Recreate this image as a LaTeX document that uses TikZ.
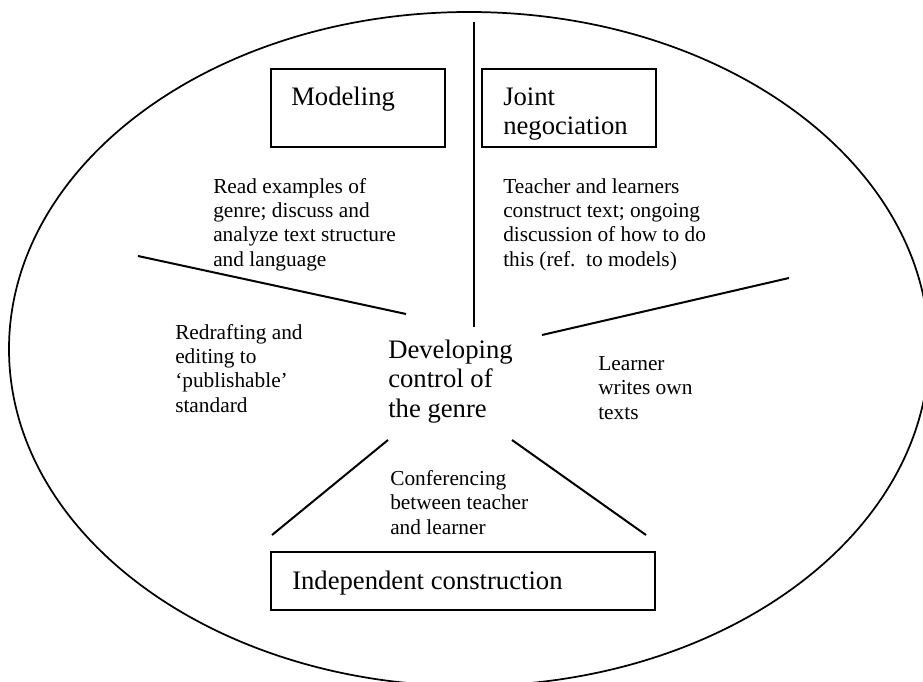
\documentclass[tikz,border=0pt]{standalone}
\usepackage{fontspec}
\setmainfont{Liberation Serif}

\begin{document}
\begin{tikzpicture}[x=0.75pt, y=-0.75pt,
  desc/.style={font=\fontsize{16}{18.2}\selectfont, align=left, anchor=base west, inner sep=0pt},
  title/.style={font=\fontsize{20}{22}\selectfont, align=left, anchor=base west, inner sep=0pt},
  frame/.style={draw, line width=1.4pt, inner sep=0pt},
  divider/.style={line width=1.5pt}]

% 画布
\useasboundingbox (0, 0) rectangle (923, 681);

% 外圈椭圆
\coordinate (O) at (469, 349);
\draw[line width=1.3pt] (O) ellipse [x radius=345pt, y radius=252.75pt];

% 三个阶段的方框
\node[frame, minimum width=130.8pt, minimum height=58.5pt] (modbox) at (357.8, 108) {};
\node[frame, minimum width=130.5pt, minimum height=58.5pt] (jointbox) at (569, 108) {};
\node[frame, minimum width=288pt, minimum height=43.5pt] (indbox) at (463, 581) {};

% 方框里的标题（多行时坐标取最后一行的基线）
\node[title] (modtxt) at (291, 106) {Modeling};
\node[title] (jointtxt) at (503, 135) {Joint\\negociation};
\node[title] (indtxt) at (292, 589) {Independent construction};

% 中心
\node[title] (centre) at (388, 417) {Developing\\control of\\the genre};

% 各段说明
\node[desc] (read) at (213, 266) {Read examples of\\genre; discuss and\\analyze text structure\\and language};
\node[desc] (teach) at (503, 266) {Teacher and learners\\construct text; ongoing\\discussion of how to do\\this (ref.\ \ to models)};
\node[desc] (redraft) at (175, 412) {Redrafting and\\editing to\\`publishable'\\standard};
\node[desc] (learner) at (598, 419) {Learner\\writes own\\texts};
\node[desc] (confer) at (390, 534) {Conferencing\\between teacher\\and learner};

% 分隔线的端点
\coordinate (vt) at (474, 22);
\coordinate (vb) at (474, 327);
\coordinate (la) at (138, 256);
\coordinate (lb) at (406, 314);
\coordinate (ra) at (789, 278);
\coordinate (rb) at (542, 335);
\coordinate (dla) at (388, 440);
\coordinate (dlb) at (272, 535);
\coordinate (dra) at (512, 440);
\coordinate (drb) at (646, 535);

% 分隔线
\draw[line width=1.1pt] (vt) -- (vb);
\draw[divider] (la) -- (lb);
\draw[divider] (ra) -- (rb);
\draw[divider] (dla) -- (dlb);
\draw[divider] (dra) -- (drb);

\end{tikzpicture}
\end{document}
